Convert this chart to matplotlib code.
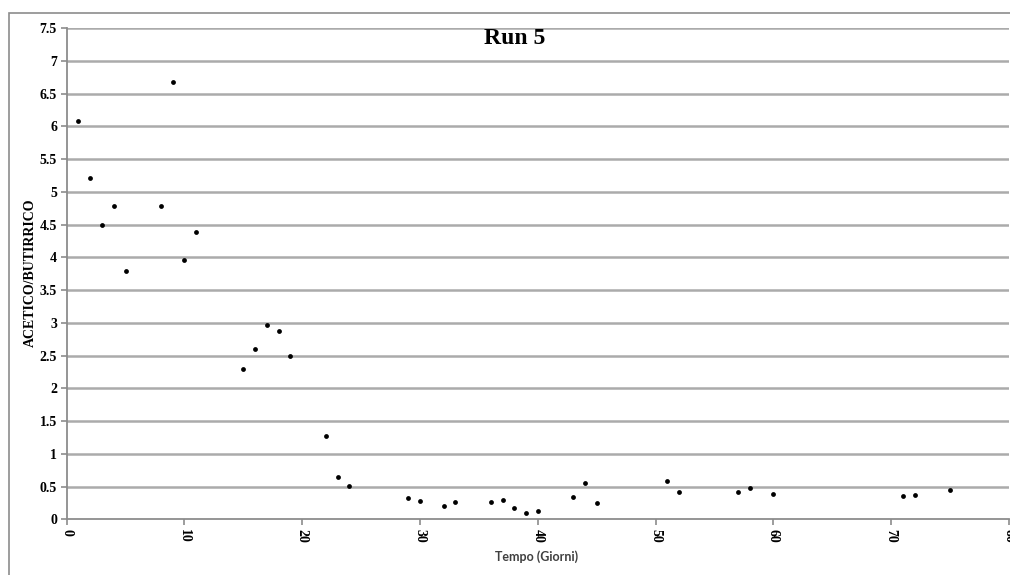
import matplotlib
matplotlib.use("Agg")
import matplotlib.pyplot as plt
from matplotlib.patches import Rectangle

# Acetic / butyric ratio over time, run 5
giorni = [1, 2, 3, 4, 5, 8, 9, 10, 11, 15, 16, 17, 18, 19, 22, 23, 24,
          29, 30, 32, 33, 36, 37, 38, 39, 40, 43, 44, 45, 51, 52, 57, 58,
          60, 71, 72, 75]
rapporto = [6.08, 5.21, 4.50, 4.79, 3.79, 4.79, 6.68, 3.96, 4.39, 2.29,
            2.60, 2.96, 2.87, 2.50, 1.27, 0.64, 0.51, 0.33, 0.28, 0.21,
            0.26, 0.26, 0.29, 0.18, 0.09, 0.13, 0.34, 0.56, 0.25, 0.59,
            0.42, 0.42, 0.48, 0.39, 0.36, 0.37, 0.45]
x_ticks = [0, 10, 20, 30, 40, 50, 60, 70, 80]
y_ticks = [0, 0.5, 1, 1.5, 2, 2.5, 3, 3.5, 4, 4.5, 5, 5.5, 6, 6.5, 7, 7.5]

W, H = 1010, 575
fig = plt.figure(figsize=(W / 100, H / 100), dpi=100)

# outer chart frame
fig.patches.append(Rectangle((9 / W, -0.1), 1.2, 1 - 13 / H + 0.1,
                             transform=fig.transFigure, fill=False,
                             edgecolor="#8c8c8c", linewidth=1.2))

ax_left, ax_right, ax_top, ax_bottom = 66.7, 1009, 28, 519.3
ax = fig.add_axes([ax_left / W, 1 - ax_bottom / H,
                   (ax_right - ax_left) / W, (ax_bottom - ax_top) / H])
ax.set_xlim(0, 80)
ax.set_ylim(0, 7.5)

for yv in y_ticks[1:]:
    ax.axhline(yv, color="#ababab", linewidth=1.8, zorder=1)

ax.scatter(giorni, rapporto, marker="o", s=12, color="black", zorder=3,
           linewidths=0)

for s in ("top", "right"):
    ax.spines[s].set_visible(False)
for s in ("left", "bottom"):
    ax.spines[s].set_color("#8c8c8c")
    ax.spines[s].set_linewidth(1.3)

serif = "Liberation Serif"
ax.set_xticks(x_ticks)
ax.set_yticks(y_ticks)
ax.set_yticklabels([f"{v:g}" for v in y_ticks], fontfamily=serif,
                   fontweight="bold", fontsize=10)
ax.set_xticklabels([str(v) for v in x_ticks], fontfamily=serif,
                   fontweight="bold", fontsize=10, rotation=-90)
ax.tick_params(axis="both", length=4, width=1.2, color="#8c8c8c", pad=3)

ax.set_ylabel("ACETICO/BUTIRRICO", fontfamily=serif, fontweight="bold",
              fontsize=10)
ax.yaxis.set_label_coords((37 - ax_left) / (ax_right - ax_left),
                          (ax_bottom - 273) / (ax_bottom - ax_top))
fig.text(537 / W, 1 - 557 / H, "Tempo (Giorni)", ha="center", va="center",
         fontfamily="Lato", fontweight="bold", fontsize=9, color="#404040")
fig.text(515 / W, 1 - 38 / H, "Run 5", ha="center", va="center",
         fontfamily=serif, fontweight="bold", fontsize=17)

fig.savefig("out.png", dpi=100)
